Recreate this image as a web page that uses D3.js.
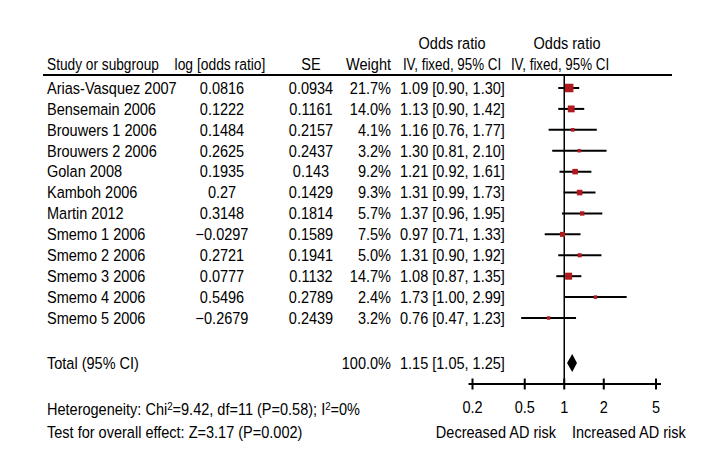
<!DOCTYPE html>
<html><head><meta charset="utf-8">
<script src="https://cdn.jsdelivr.net/npm/d3@7/dist/d3.min.js"></script>
<style>
html,body{margin:0;padding:0;background:#fff;}
svg text{font-family:"Liberation Sans",Arial,sans-serif;font-size:16.5px;fill:#000;}
</style></head>
<body><svg id="c" width="720" height="463"></svg>
<script>
const studies = ["Arias-Vasquez 2007","Bensemain 2006","Brouwers 1 2006","Brouwers 2 2006","Golan 2008","Kamboh 2006","Martin 2012","Smemo 1 2006","Smemo 2 2006","Smemo 3 2006","Smemo 4 2006","Smemo 5 2006"];
const logOR = ["0.0816","0.1222","0.1484","0.2625","0.1935","0.27","0.3148","\u22120.0297","0.2721","0.0777","0.5496","\u22120.2679"];
const seVals = ["0.0934","0.1161","0.2157","0.2437","0.143","0.1429","0.1814","0.1589","0.1941","0.1132","0.2789","0.2439"];
const weights = [21.7,14.0,4.1,3.2,9.2,9.3,5.7,7.5,5.0,14.7,2.4,3.2];
const orVals = [1.09,1.13,1.16,1.30,1.21,1.31,1.37,0.97,1.31,1.08,1.73,0.76];
const ciLow = [0.90,0.90,0.76,0.81,0.92,0.99,0.96,0.71,0.90,0.87,1.00,0.47];
const ciHigh = [1.30,1.42,1.77,2.10,1.61,1.73,1.95,1.33,1.92,1.35,2.99,1.23];
const total = {label:"Total (95% CI)", weight:"100.0%", or:1.15, lo:1.05, hi:1.25};
const tickVals = [0.2,0.5,1,2,5];
const headers = ["Study or subgroup","log [odds ratio]","SE","Weight"];

const SX = 0.88; // horizontal condensing to imitate a condensed face
const svg = d3.select("#c");
function txt(parent, x, y, s, anchor, sx){
  return parent.append("text")
    .attr("transform",`translate(${x},${y}) scale(${sx||SX},1)`)
    .attr("dy","0.35em").attr("text-anchor",anchor||"start").text(s);
}
const x = d3.scaleLog().domain([0.2,5]).range([472.5,656]);
const y = d3.scalePoint().domain(studies).range([88,318]);
const size = d3.scaleSqrt().domain([0,21.7]).range([0,8.5]);
const yTotal = 363, yAxis = 384;
const f2 = d3.format(".2f");
const fw = d => d.toFixed(1) + "%";
const sq = i => Math.max(3.5,size(weights[i]));

// headers
txt(svg,47,64,headers[0],"start",0.83);
txt(svg,220,64,headers[1],"middle",0.84);
txt(svg,311,64,headers[2],"middle");
txt(svg,391,64,headers[3],"end");
txt(svg,452,43,"Odds ratio","middle");
txt(svg,452,64,"IV, fixed, 95% CI","middle",0.81);
txt(svg,567,43,"Odds ratio","middle");
txt(svg,560,64,"IV, fixed, 95% CI","middle",0.81);
svg.append("line").attr("x1",43).attr("x2",672).attr("y1",75).attr("y2",75).attr("stroke","#000").attr("stroke-width",1.8);

// reference line at OR = 1
svg.append("line").attr("x1",x(1)).attr("x2",x(1)).attr("y1",75).attr("y2",yAxis).attr("stroke","#000").attr("stroke-width",1.5);

// rows
studies.forEach((d,i)=>{
  const g = svg.append("g");
  txt(g,47,y(d),d);
  txt(g,222,y(d),logOR[i],"middle");
  txt(g,311,y(d),seVals[i],"middle");
  txt(g,391,y(d),fw(weights[i]),"end");
  txt(g,400,y(d),`${f2(orVals[i])} [${f2(ciLow[i])}, ${f2(ciHigh[i])}]`);
  g.append("line").attr("x1",x(ciLow[i])).attr("x2",x(ciHigh[i]))
    .attr("y1",y(d)).attr("y2",y(d)).attr("stroke","#000").attr("stroke-width",2);
  g.append("rect").attr("width",sq(i)).attr("height",sq(i))
    .attr("x",x(orVals[i])-sq(i)/2).attr("y",y(d)-sq(i)/2).attr("fill","#b0191e");
});

// total
txt(svg,47,yTotal,total.label);
txt(svg,391,yTotal,total.weight,"end");
txt(svg,400,yTotal,`${f2(total.or)} [${f2(total.lo)}, ${f2(total.hi)}]`);
svg.append("path").attr("d",`M${x(total.lo)},${yTotal}L${x(total.or)},${yTotal-9}L${x(total.hi)},${yTotal}L${x(total.or)},${yTotal+9}Z`).attr("fill","#000");

// axis
const ax = svg.append("g").attr("transform",`translate(0,${yAxis})`);
ax.append("line").attr("x1",x(0.2)-4).attr("x2",x(5)+5).attr("stroke","#000").attr("stroke-width",2);
ax.selectAll("line.t").data(tickVals).join("line").attr("class","t")
  .attr("x1",d=>x(d)).attr("x2",d=>x(d)).attr("y1",-5.5).attr("y2",5.5).attr("stroke","#000").attr("stroke-width",2);
tickVals.forEach(d=>txt(ax,x(d),23,String(d),"middle"));
txt(svg,556,432,"Decreased AD risk","end");
txt(svg,572,432,"Increased AD risk");

// footer
const h = txt(svg,47,409,"");
h.append("tspan").text("Heterogeneity: Chi");
h.append("tspan").attr("dy","-5").style("font-size","11px").text("2");
h.append("tspan").attr("dy","5").text("=9.42, df=11 (P=0.58); I");
h.append("tspan").attr("dy","-5").style("font-size","11px").text("2");
h.append("tspan").attr("dy","5").text("=0%");
txt(svg,47,432,"Test for overall effect: Z=3.17 (P=0.002)");
</script></body></html>
